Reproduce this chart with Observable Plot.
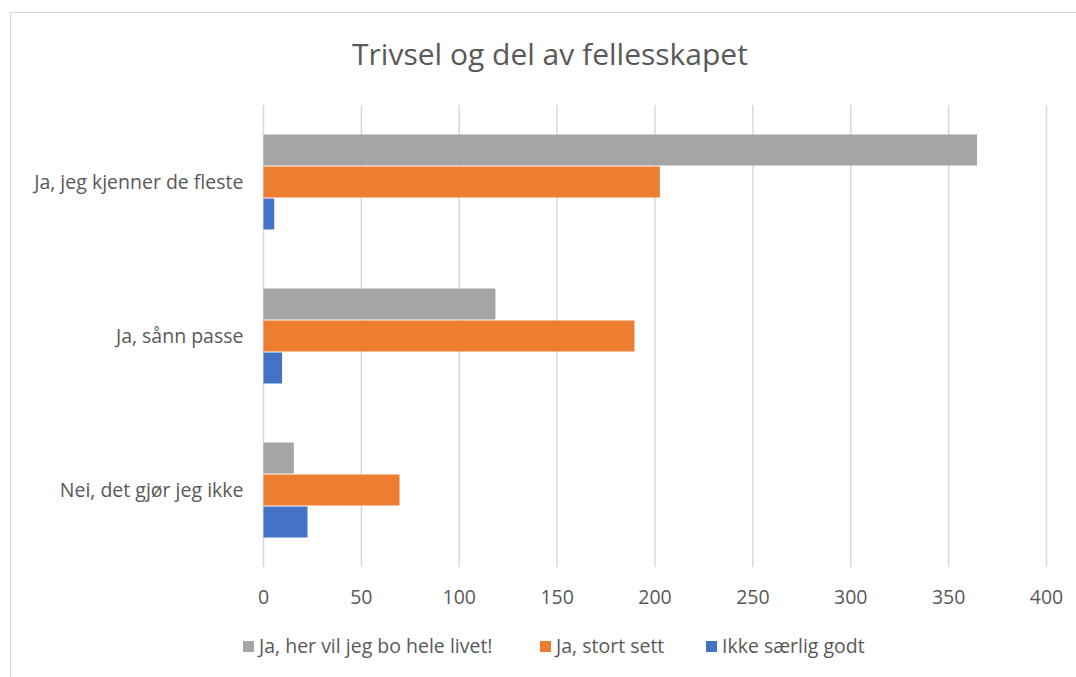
<!DOCTYPE html>
<html>
<head>
<meta charset="utf-8">
<script src="https://cdn.jsdelivr.net/npm/d3@7"></script>
<script src="https://cdn.jsdelivr.net/npm/@observablehq/plot@0.6"></script>
<style>
  html, body { margin: 0; padding: 0; background: #fff; }
  #wrap { position: relative; width: 1076px; height: 677px; overflow: hidden; font-family: "Open Sans", sans-serif; color: #595959; }
  #border { position: absolute; left: 10px; top: 12px; width: 1080px; height: 700px; border: 1.5px solid #D9D9D9; box-sizing: border-box; }
  #chart { position: absolute; left: 0; top: 0; }
  #title { position: absolute; left: 0; width: 1100px; top: 34px; text-align: center; font-size: 30px; line-height: 40px; color: #595959; }
  #legend { position: absolute; top: 633px; left: 0; width: 1076px; height: 26px; }
  .item { position: absolute; top: 0; display: flex; align-items: center; font-size: 19.5px; line-height: 26px; color: #595959; white-space: nowrap; }
  .sw { width: 11px; height: 11px; margin-right: 5px; display: inline-block; }
</style>
</head>
<body>
<div id="wrap">
  <div id="border"></div>
  <div id="chart"></div>
  <div id="title">Trivsel og del av fellesskapet</div>
  <div id="legend"></div>
</div>
<script>
const categories = ["Ja, jeg kjenner de fleste", "Ja, sånn passe", "Nei, det gjør jeg ikke"];
const seriesNames = ["Ja, her vil jeg bo hele livet!", "Ja, stort sett", "Ikke særlig godt"];
const seriesColors = ["#A5A5A5", "#ED7D31", "#4472C4"];
const herViljegBo = [365, 119, 16];
const stortSett = [203, 190, 70];
const ikkeSaerligGodt = [6, 10, 23];
const xTicks = [0, 50, 100, 150, 200, 250, 300, 350, 400];

const seriesValues = [herViljegBo, stortSett, ikkeSaerligGodt];
const data = [];
categories.forEach((c, i) => {
  seriesNames.forEach((s, j) => data.push({category: c, series: s, value: seriesValues[j][i]}));
});

const chart = Plot.plot({
  width: 1076,
  height: 677,
  marginTop: 105,
  marginBottom: 110,
  marginLeft: 263,
  marginRight: 30,
  style: { fontFamily: "Open Sans, sans-serif", fontSize: "19.5px", color: "#595959", background: "transparent" },
  x: { domain: [0, 400], ticks: xTicks },
  y: { domain: seriesNames, paddingInner: 0, paddingOuter: 0.906, axis: null },
  fy: { domain: categories, padding: 0 },
  color: { domain: seriesNames, range: seriesColors },
  marks: [
    Plot.gridX(xTicks, { stroke: "#D9D9D9", strokeOpacity: 1, strokeWidth: 1.5 }),
    Plot.barX(data, { fy: "category", y: "series", x: "value", fill: "series", inset: 0.5 }),
    Plot.axisX({ ticks: xTicks, tickSize: 0, tickPadding: 23, label: null, fill: "#595959" }),
    Plot.axisFy({ anchor: "left", tickSize: 0, tickPadding: 20, label: null, fill: "#595959" })
  ]
});
document.getElementById("chart").appendChild(chart);

const lx = [243, 540, 706];
const legend = document.getElementById("legend");
seriesNames.forEach((s, i) => {
  const d = document.createElement("div");
  d.className = "item";
  d.style.left = lx[i] + "px";
  d.innerHTML = `<span class="sw" style="background:${seriesColors[i]}"></span>${s}`;
  legend.appendChild(d);
});
</script>
</body>
</html>
